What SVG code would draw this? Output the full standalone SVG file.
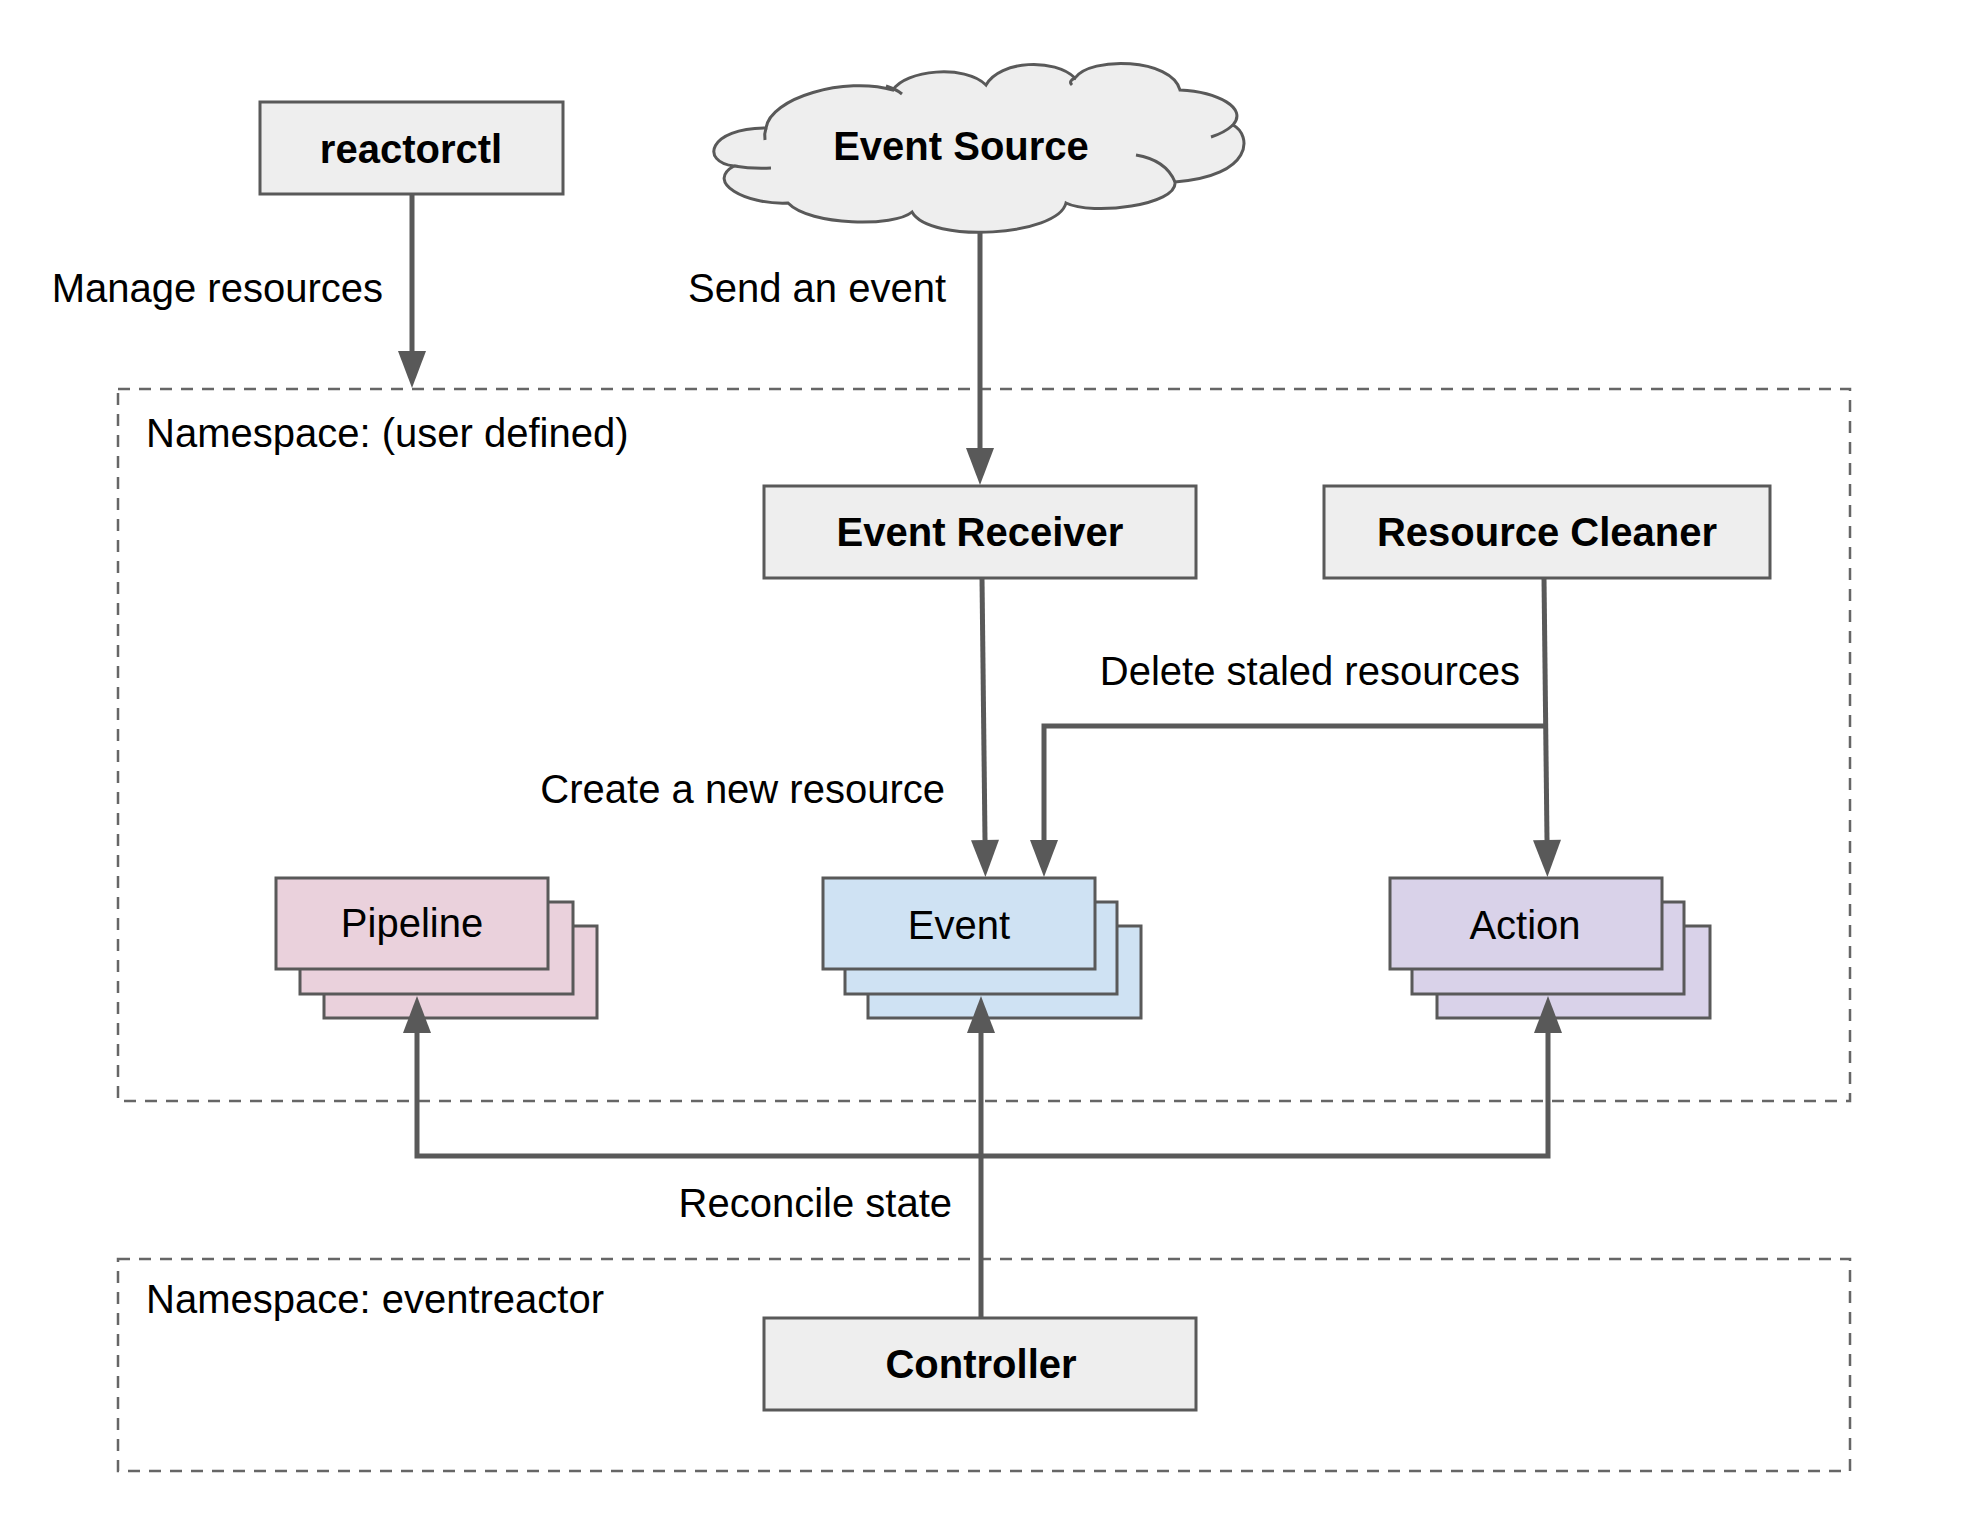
<svg xmlns="http://www.w3.org/2000/svg" width="1970" height="1522" viewBox="0 0 1970 1522">
<style>
  .box { fill: #eeeeee; stroke: #595959; stroke-width: 3; }
  .pink { fill: #ead1dc; stroke: #595959; stroke-width: 3; }
  .blue { fill: #cfe2f3; stroke: #595959; stroke-width: 3; }
  .purple { fill: #d9d2e9; stroke: #595959; stroke-width: 3; }
  .ns { fill: none; stroke: #666666; stroke-width: 2.5; stroke-dasharray: 12 9; }
  .bold { font-family: "Liberation Sans", Arial, sans-serif; font-size: 40px; font-weight: bold; fill: #000; text-anchor: middle; }
  .lbl { font-family: "Liberation Sans", Arial, sans-serif; font-size: 40px; fill: #000; }
  .mid { text-anchor: middle; }
  .end { text-anchor: end; }
  .edge { fill: none; stroke: #595959; stroke-width: 5; marker-end: url(#arrow); }
  .inner { fill: none; stroke: #595959; stroke-width: 3; }
</style>
<defs>
  <marker id="arrow" markerUnits="userSpaceOnUse" markerWidth="38" markerHeight="30" refX="0" refY="14" orient="auto" overflow="visible">
    <path d="M0,0 L37,14 L0,28 Z" fill="#595959"/>
  </marker>
</defs>
<rect width="1970" height="1522" fill="#ffffff"/>

<g id="namespace-user">
  <rect class="ns" x="118" y="389" width="1732" height="712"/>
  <text class="lbl" x="146" y="447">Namespace: (user defined)</text>
</g>
<g id="namespace-eventreactor">
  <rect class="ns" x="118" y="1259" width="1732" height="212"/>
  <text class="lbl" x="146" y="1313">Namespace: eventreactor</text>
</g>

<g id="reactorctl">
  <rect class="box" x="260" y="102" width="303" height="92"/>
  <text class="bold" x="411" y="163">reactorctl</text>
</g>

<g id="event-source">
  <path fill="#eeeeee" stroke="#595959" stroke-width="3" d="M766,128 C770,98 845,76 893,90 C905,70 965,64 986,85 C1000,60 1055,58 1075,78 C1090,56 1172,58 1180,90 C1218,92 1248,108 1233,125 C1252,135 1254,176 1175,182 C1178,205 1092,216 1066,203 C1058,236 930,244 912,212 C895,227 810,226 788,203 C745,205 705,182 734,166 C700,162 708,128 766,128 Z"/>
  <path class="inner" d="M886,86 Q896,89 902,94"/>
  <path class="inner" d="M1233,125 Q1224,133 1211,137"/>
  <path class="inner" d="M1136,155 Q1166,160 1175,182"/>
  <path class="inner" d="M734,166 Q752,169 771,168"/>
  <path class="inner" d="M766,128 Q764,134 765,140"/>
  <path class="inner" d="M1075,78 Q1068,81 1072,85"/>
  <text class="bold" x="961" y="160">Event Source</text>
</g>

<g id="event-receiver">
  <rect class="box" x="764" y="486" width="432" height="92"/>
  <text class="bold" x="980" y="546">Event Receiver</text>
</g>

<g id="resource-cleaner">
  <rect class="box" x="1324" y="486" width="446" height="92"/>
  <text class="bold" x="1547" y="546">Resource Cleaner</text>
</g>

<g id="pipeline">
  <rect class="pink" x="324" y="926" width="273" height="92"/>
  <rect class="pink" x="300" y="902" width="273" height="92"/>
  <rect class="pink" x="276" y="878" width="272" height="91"/>
  <text class="lbl mid" x="412" y="937">Pipeline</text>
</g>

<g id="event">
  <rect class="blue" x="868" y="926" width="273" height="92"/>
  <rect class="blue" x="845" y="902" width="272" height="92"/>
  <rect class="blue" x="823" y="878" width="272" height="91"/>
  <text class="lbl mid" x="959" y="939">Event</text>
</g>

<g id="action">
  <rect class="purple" x="1437" y="926" width="273" height="92"/>
  <rect class="purple" x="1412" y="902" width="272" height="92"/>
  <rect class="purple" x="1390" y="878" width="272" height="91"/>
  <text class="lbl mid" x="1525" y="939">Action</text>
</g>

<g id="controller">
  <rect class="box" x="764" y="1318" width="432" height="92"/>
  <text class="bold" x="981" y="1378">Controller</text>
</g>

<g id="connectors">
  <path class="edge" d="M412,194 V351"/>
  <path class="edge" d="M980,233 V448"/>
  <path class="edge" d="M982,578 L985,840"/>
  <path class="edge" d="M1544,578 L1547,840"/>
  <path class="edge" d="M1546,726 H1044 V840"/>
  <path class="edge" d="M981,1318 V1033"/>
  <path class="edge" d="M981,1156 H417 V1033"/>
  <path class="edge" d="M981,1156 H1548 V1033"/>
  <text class="lbl end" x="383" y="302">Manage resources</text>
  <text class="lbl end" x="946" y="302">Send an event</text>
  <text class="lbl end" x="1520" y="685">Delete staled resources</text>
  <text class="lbl end" x="945" y="803">Create a new resource</text>
  <text class="lbl end" x="952" y="1217">Reconcile state</text>
</g>
</svg>
